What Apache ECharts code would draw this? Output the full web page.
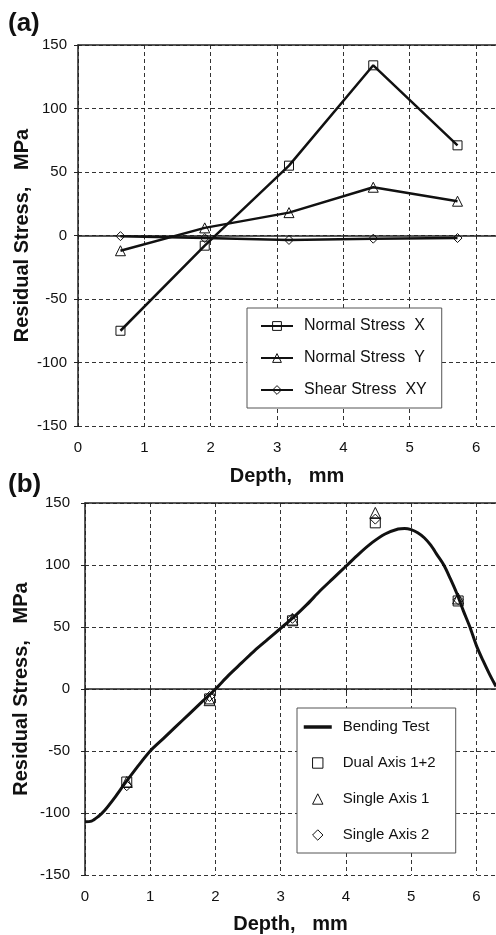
<!DOCTYPE html>
<html>
<head>
<meta charset="utf-8">
<script src="https://cdn.jsdelivr.net/npm/echarts@6/dist/echarts.min.js"></script>
<style>
  html, body { margin: 0; padding: 0; background: #fff; }
  #chart { width: 496px; height: 935px; }
</style>
</head>
<body>
<div id="chart"></div>
<script>
// (a) measured points
var depthA = [0.64, 1.91, 3.18, 4.45, 5.72];
var normalX = [-75, -8, 55, 134, 71];
var normalY = [-12, 6, 18, 38, 27];
var shearXY = [-0.5, -2, -3.5, -2.5, -2];

// (b) bending test curve + strain gauge points
var bendDepth = [0, 0.1, 0.2, 0.3, 0.45, 0.6, 0.8, 1.0, 1.2, 1.4, 1.6, 1.8, 2.0, 2.2, 2.4, 2.6, 2.8, 3.0,
  3.2, 3.4, 3.6, 3.8, 4.0, 4.2, 4.4, 4.6, 4.8, 4.9, 5.0, 5.1, 5.2, 5.3, 5.4, 5.5, 5.6, 5.7, 5.8, 5.9,
  6.0, 6.1, 6.2, 6.3];
var bendStress = [-107, -106.5, -103, -98, -88, -77, -63, -50, -40, -30, -20, -10, 0, 11, 21, 31, 40, 49,
  58, 68, 79, 89, 99, 109, 118, 125, 129, 129.5, 128.5, 126, 122, 116, 108, 100, 89, 77, 63, 50,
  35, 23, 12, 2];
var depthB = [0.64, 1.91, 3.18, 4.45, 5.72];
var dualAxis = [-75, -8, 55, 134, 71];
var singleAxis1 = [-75, -9, 56, 142, 73];
var singleAxis2 = [-78, -6, 57, 137, 72];

var yTicks = { min: -150, max: 150, interval: 50 };
var xTicks = { min: 0, max: 6.3, interval: 1 };

function pairs(xs, ys) {
  var out = [];
  for (var i = 0; i < xs.length; i++) {
    out.push([xs[i], ys[i]]);
  }
  return out;
}

var font = 'Liberation Sans, Arial, sans-serif';
var diamond = 'path://M5,0L10,5L5,10L0,5Z';
var gridLine = { show: true, lineStyle: { color: '#333', type: [4, 3], width: 1 } };
var axisLine = { show: true, lineStyle: { color: '#222', width: 1.5 } };

function xAxisFor(gridIndex, gap) {
  return {
    type: 'value', gridIndex: gridIndex,
    min: xTicks.min, max: xTicks.max, interval: xTicks.interval,
    name: 'Depth,   mm', nameLocation: 'middle', nameGap: gap,
    nameTextStyle: { fontFamily: font, fontSize: 20, fontWeight: 'bold', color: '#111' },
    axisLine: axisLine,
    axisTick: { show: true, length: 4, lineStyle: { color: '#222' } },
    axisLabel: { fontFamily: font, fontSize: 15, color: '#111', margin: 14, showMaxLabel: false },
    splitLine: gridLine
  };
}
function topAxisFor(gridIndex) {
  return {
    type: 'value', gridIndex: gridIndex, position: 'top',
    min: xTicks.min, max: xTicks.max,
    axisLine: axisLine, axisTick: { show: false }, axisLabel: { show: false }, splitLine: { show: false }
  };
}
function yAxisFor(gridIndex, gap, labelMargin) {
  return {
    type: 'value', gridIndex: gridIndex,
    min: yTicks.min, max: yTicks.max, interval: yTicks.interval,
    name: 'Residual Stress,   MPa', nameLocation: 'middle', nameGap: gap, nameMoveOverlap: false,
    nameTextStyle: { fontFamily: font, fontSize: 20, fontWeight: 'bold', color: '#111' },
    axisLine: axisLine,
    axisTick: { show: true, length: 4, lineStyle: { color: '#222' } },
    axisLabel: { fontFamily: font, fontSize: 15, color: '#111', margin: labelMargin },
    splitLine: gridLine
  };
}

var lineStyleA = { color: '#111', width: 2.5 };
var hiddenLine = { color: '#111', width: 0, opacity: 0 };
var markerStyle = { color: 'transparent', borderColor: '#111', borderWidth: 1 };

var chart = echarts.init(document.getElementById('chart'));
chart.setOption({
  animation: false,
  backgroundColor: '#fff',
  title: [
    { text: '(a)', left: 8, top: 11, padding: 0, textStyle: { fontFamily: font, fontSize: 26, fontWeight: 'bold', color: '#111' } },
    { text: '(b)', left: 8, top: 472, padding: 0, textStyle: { fontFamily: font, fontSize: 26, fontWeight: 'bold', color: '#111' } }
  ],
  grid: [
    { left: 78, top: 45, width: 420, height: 381 },
    { left: 85, top: 503, width: 413, height: 374 }
  ],
  xAxis: [xAxisFor(0, 40), topAxisFor(0), xAxisFor(1, 39), topAxisFor(1)],
  yAxis: [yAxisFor(0, 46, 11), yAxisFor(1, 54, 15)],
  legend: [
    {
      data: ['Normal Stress  X', 'Normal Stress  Y', 'Shear Stress  XY'],
      orient: 'vertical', left: 247, top: 308,
      padding: [10, 15, 10, 13], itemGap: 16, itemWidth: 32, itemHeight: 11,
      backgroundColor: '#fff', borderColor: '#555', borderWidth: 1,
      itemStyle: { borderWidth: 1 },
      textStyle: { fontFamily: font, fontSize: 16, lineHeight: 16, color: '#111', padding: [0, 0, 0, 6] }
    },
    {
      data: [
        { name: 'Bending Test', itemStyle: { opacity: 0 }, lineStyle: { width: 3.5, color: '#111' } },
        'Dual Axis 1+2', 'Single Axis 1', 'Single Axis 2'
      ],
      orient: 'vertical', left: 297, top: 708,
      padding: [11, 20, 10, 5], itemGap: 20, itemWidth: 28, itemHeight: 13,
      backgroundColor: '#fff', borderColor: '#555', borderWidth: 1,
      itemStyle: { borderWidth: 1 },
      textStyle: { fontFamily: font, fontSize: 15, lineHeight: 16, color: '#111', padding: [0, 0, 0, 6] }
    }
  ],
  series: [
    { name: 'Normal Stress  X', type: 'line', xAxisIndex: 0, yAxisIndex: 0, data: pairs(depthA, normalX),
      symbol: 'rect', symbolSize: 9, lineStyle: lineStyleA, itemStyle: markerStyle },
    { name: 'Normal Stress  Y', type: 'line', xAxisIndex: 0, yAxisIndex: 0, data: pairs(depthA, normalY),
      symbol: 'triangle', symbolSize: 10, lineStyle: lineStyleA, itemStyle: markerStyle },
    { name: 'Shear Stress  XY', type: 'line', xAxisIndex: 0, yAxisIndex: 0, data: pairs(depthA, shearXY),
      symbol: diamond, symbolSize: 9, lineStyle: lineStyleA, itemStyle: markerStyle },

    { name: 'Bending Test', type: 'line', xAxisIndex: 2, yAxisIndex: 1, data: pairs(bendDepth, bendStress),
      symbol: 'none', smooth: 0.3, lineStyle: { color: '#111', width: 3 }, itemStyle: { color: '#111' } },
    // gauge points: line series with the line hidden so the legend keeps square symbols
    { name: 'Dual Axis 1+2', type: 'line', xAxisIndex: 2, yAxisIndex: 1, data: pairs(depthB, dualAxis),
      symbol: 'rect', symbolSize: 10, showAllSymbol: true, lineStyle: hiddenLine, itemStyle: markerStyle },
    { name: 'Single Axis 1', type: 'line', xAxisIndex: 2, yAxisIndex: 1, data: pairs(depthB, singleAxis1),
      symbol: 'triangle', symbolSize: 11, showAllSymbol: true, lineStyle: hiddenLine, itemStyle: markerStyle },
    { name: 'Single Axis 2', type: 'line', xAxisIndex: 2, yAxisIndex: 1, data: pairs(depthB, singleAxis2),
      symbol: diamond, symbolSize: 10, showAllSymbol: true, lineStyle: hiddenLine, itemStyle: markerStyle }
  ]
});
</script>
</body>
</html>
